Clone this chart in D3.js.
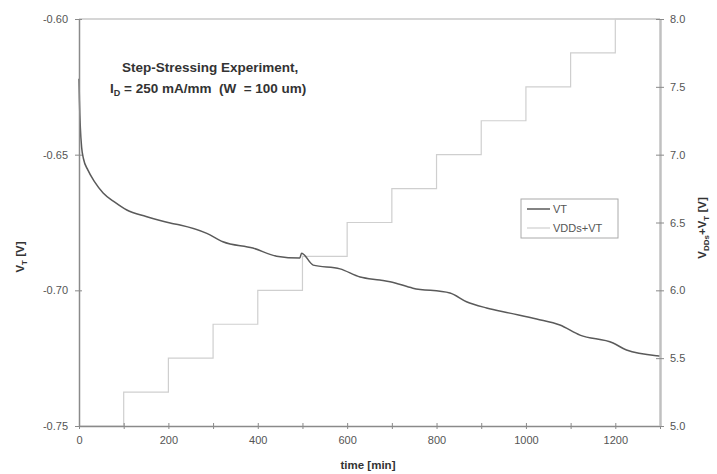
<!DOCTYPE html>
<html>
<head>
<meta charset="utf-8">
<script src="https://cdn.jsdelivr.net/npm/d3@7"></script>
<style>
  body { margin: 0; background: #fff; }
  svg text { font-family: "Liberation Sans", Arial, sans-serif; white-space: pre; }
</style>
</head>
<body>
<svg id="chart" width="717" height="474"></svg>
<script>
// VT vs time (left axis)
var vtTime = [0, 1, 3, 6, 10, 20, 35, 54, 80, 107, 150, 204, 226, 286, 322, 389, 442, 494, 498, 524, 584, 629, 673, 696, 747, 830, 867, 912, 964, 1024, 1076, 1121, 1195, 1225, 1293, 1300];
var vtValue = [-0.622, -0.630, -0.640, -0.6475, -0.6515, -0.6557, -0.660, -0.6641, -0.6675, -0.6704, -0.6728, -0.6752, -0.6759, -0.679, -0.6821, -0.6844, -0.6874, -0.6881, -0.6863, -0.6907, -0.6921, -0.6951, -0.6962, -0.6968, -0.6992, -0.701, -0.7042, -0.7065, -0.7084, -0.7106, -0.7128, -0.7165, -0.7194, -0.722, -0.7241, -0.7242];

// VDDs+VT step series (right axis)
var stepTime = [0, 100, 200, 300, 400, 500, 600, 700, 800, 900, 1000, 1100, 1200, 1300];
var stepValue = [5.0, 5.25, 5.5, 5.75, 6.0, 6.25, 6.5, 6.75, 7.0, 7.25, 7.5, 7.75, 8.0, 8.0];

var leftTicks = [-0.60, -0.65, -0.70, -0.75];
var rightTicks = [5.0, 5.5, 6.0, 6.5, 7.0, 7.5, 8.0];
var xTicks = [0, 200, 400, 600, 800, 1000, 1200];

var svg = d3.select("#chart");
var pLeft = 79, pRight = 660, pTop = 19, pBottom = 426;

var x = d3.scaleLinear().domain([0, 1300]).range([pLeft, pRight]);
var yL = d3.scaleLinear().domain([-0.75, -0.60]).range([pBottom, pTop]);
var yR = d3.scaleLinear().domain([5.0, 8.0]).range([pBottom, pTop]);

// top border
svg.append("line")
  .attr("x1", pLeft).attr("x2", pRight)
  .attr("y1", pTop).attr("y2", pTop)
  .attr("stroke", "#c8c8c8").attr("stroke-width", 1.5);

// step series
var stepLine = d3.line()
  .x(function(d, i) { return x(stepTime[i]); })
  .y(function(d) { return yR(d); })
  .curve(d3.curveStepAfter);

svg.append("path")
  .datum(stepValue)
  .attr("d", stepLine)
  .attr("fill", "none")
  .attr("stroke", "#cfcfcf")
  .attr("stroke-width", 1.2);

// VT line
var vtLine = d3.line()
  .x(function(d, i) { return x(vtTime[i]); })
  .y(function(d) { return yL(d); })
  .curve(d3.curveMonotoneX);

svg.append("path")
  .datum(vtValue)
  .attr("d", vtLine)
  .attr("fill", "none")
  .attr("stroke", "#5a5a5a")
  .attr("stroke-width", 1.5);

// x axis
var xAxis = svg.append("g")
  .attr("transform", "translate(0," + pBottom + ")")
  .call(d3.axisBottom(x).tickValues(d3.range(0, 1301, 100))
    .tickSize(4).tickSizeOuter(0).tickPadding(6)
    .tickFormat(function(d) { return xTicks.indexOf(d) >= 0 ? d : ""; }));
xAxis.selectAll(".tick line").attr("y1", -3).attr("y2", 3);

var hyphen = function(f) { return function(d) { return f(d).replace("\u2212", "-"); }; };

// left axis
var yAxisL = svg.append("g")
  .attr("transform", "translate(" + pLeft + ",0)")
  .call(d3.axisLeft(yL).tickValues(leftTicks).tickSize(4).tickSizeOuter(0).tickPadding(7)
    .tickFormat(hyphen(d3.format(".2f"))));
yAxisL.selectAll(".tick line").attr("x1", -4).attr("x2", 3);

// right axis
var yAxisR = svg.append("g")
  .attr("transform", "translate(" + pRight + ",0)")
  .call(d3.axisRight(yR).tickValues(rightTicks).tickSize(4).tickSizeOuter(0).tickPadding(6)
    .tickFormat(d3.format(".1f")));
yAxisR.selectAll(".tick line").attr("x1", -4).attr("x2", 4);

[xAxis, yAxisL, yAxisR].forEach(function(g) {
  g.select(".domain").attr("stroke", "#8a8a8a").attr("stroke-width", 1.5);
  g.selectAll(".tick line").attr("stroke", "#8a8a8a");
  g.selectAll(".tick text").attr("fill", "#555").style("font-size", "11px");
});
yAxisR.select(".domain").attr("stroke", "#c0c0c0").attr("stroke-width", 2.5);

// axis titles
svg.append("text")
  .attr("x", 368).attr("y", 469)
  .attr("text-anchor", "middle")
  .style("font-size", "11.5px").style("font-weight", "bold").attr("fill", "#333")
  .text("time [min]");

var lt = svg.append("text")
  .attr("transform", "translate(24,257) rotate(-90)")
  .attr("text-anchor", "middle")
  .style("font-size", "11.5px").style("font-weight", "bold").attr("fill", "#333");
lt.append("tspan").text("V");
lt.append("tspan").attr("dy", 3).style("font-size", "8px").text("T");
lt.append("tspan").attr("dy", -3).text(" [V]");

var rt = svg.append("text")
  .attr("transform", "translate(706,228) rotate(-90)")
  .attr("text-anchor", "middle")
  .style("font-size", "11.5px").style("font-weight", "bold").attr("fill", "#333");
rt.append("tspan").text("V");
rt.append("tspan").attr("dy", 3).style("font-size", "8px").text("DDs");
rt.append("tspan").attr("dy", -3).text("+V");
rt.append("tspan").attr("dy", 3).style("font-size", "8px").text("T");
rt.append("tspan").attr("dy", -3).text(" [V]");

// annotation
svg.append("text")
  .attr("x", 122).attr("y", 72)
  .style("font-size", "13.5px").style("font-weight", "bold").attr("fill", "#333")
  .text("Step-Stressing Experiment,");
var sub = svg.append("text")
  .attr("x", 110).attr("y", 93)
  .style("font-size", "13.5px").style("font-weight", "bold").attr("fill", "#333");
sub.append("tspan").text("I");
sub.append("tspan").attr("dy", 3).style("font-size", "9px").text("D");
sub.append("tspan").attr("dy", -3).text(" = 250 mA/mm  (W  = 100 um)");

// legend
var legendNames = ["VT", "VDDs+VT"];
var legendColors = ["#5a5a5a", "#cfcfcf"];
var legendWidths = [1.5, 1.2];
var lg = svg.append("g").attr("transform", "translate(521,199)");
lg.append("rect").attr("width", 97).attr("height", 39)
  .attr("fill", "#fff").attr("stroke", "#aaa");
legendNames.forEach(function(n, i) {
  lg.append("line").attr("x1", 6).attr("x2", 29)
    .attr("y1", 10 + i * 19).attr("y2", 10 + i * 19)
    .attr("stroke", legendColors[i]).attr("stroke-width", legendWidths[i]);
  lg.append("text").attr("x", 32).attr("y", 14 + i * 19)
    .style("font-size", "11px").attr("fill", "#555").text(n);
});
</script>
</body>
</html>
